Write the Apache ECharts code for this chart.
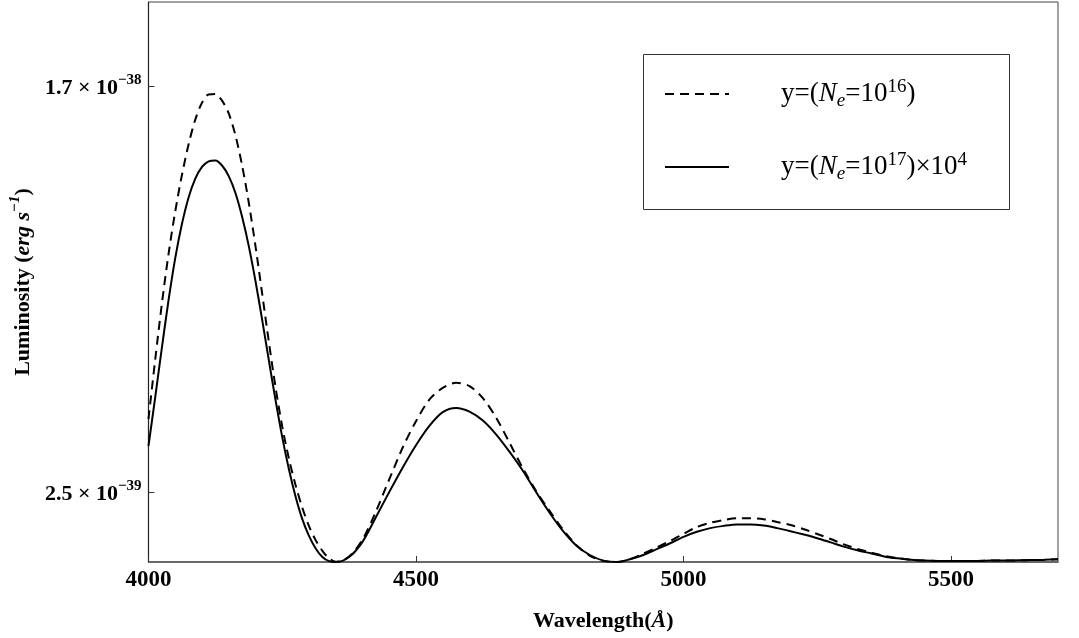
<!DOCTYPE html>
<html>
<head>
<meta charset="utf-8">
<title>Luminosity vs wavelength</title>
<script src="https://cdn.jsdelivr.net/npm/echarts@6/dist/echarts.min.js"></script>
<style>
  html, body { margin: 0; padding: 0; background: #ffffff; }
  #chart { width: 1079px; height: 638px; }
</style>
</head>
<body>
<div id="chart"></div>
<script>
// Wavelength samples (Angstrom): finer across the first, steepest lobe
const wavelengths = [
  4000, 4012.5, 4025, 4037.5, 4050, 4062.5, 4075, 4087.5, 4100, 4112.5,
  4125, 4137.5, 4150, 4162.5, 4175, 4187.5, 4200, 4212.5, 4225, 4237.5,
  4250, 4262.5, 4275, 4287.5, 4300, 4312.5, 4325, 4337.5, 4350,
  4375, 4400, 4425, 4450, 4475,
  4500, 4525, 4550, 4575, 4600, 4625, 4650, 4675, 4700, 4725,
  4750, 4775, 4800, 4825, 4850, 4875, 4900, 4925, 4950, 4975,
  5000, 5025, 5050, 5075, 5100, 5125, 5150, 5175, 5200, 5225,
  5250, 5275, 5300, 5325, 5350, 5375, 5400, 5425, 5450, 5475,
  5500, 5525, 5550, 5575, 5600, 5625, 5650, 5675, 5700
];

// Luminosity in units of 1e-39 erg s^-1, N_e = 1e16
const lumNe16 = [
  5.10, 7.22, 9.22, 11.00, 12.52, 13.82, 14.92, 15.80, 16.40, 16.70,
  16.71, 16.48, 16.02, 15.24, 14.16, 12.83, 11.28, 9.58, 7.86, 6.24,
  4.84, 3.69, 2.74, 1.94, 1.28, 0.78, 0.40, 0.13, 0.01,
  0.20, 0.80, 1.80, 2.95, 4.08,
  5.03, 5.80, 6.22, 6.40, 6.28, 5.85, 5.15, 4.25, 3.34, 2.52,
  1.82, 1.15, 0.60, 0.22, 0.04, 0.00, 0.10, 0.30, 0.52, 0.75,
  1.00, 1.25, 1.40, 1.50, 1.56, 1.56, 1.53, 1.43, 1.32, 1.17,
  1.00, 0.82, 0.63, 0.47, 0.34, 0.22, 0.14, 0.08, 0.05, 0.04,
  0.04, 0.04, 0.04, 0.05, 0.05, 0.06, 0.07, 0.08, 0.10
];

// Luminosity in units of 1e-39 erg s^-1, N_e = 1e17, scaled by 1e4
const lumNe17 = [
  4.15, 5.87, 7.65, 9.35, 10.85, 12.07, 13.02, 13.69, 14.11, 14.31,
  14.34, 14.16, 13.78, 13.18, 12.33, 11.28, 10.03, 8.65, 7.20, 5.78,
  4.46, 3.31, 2.33, 1.53, 0.93, 0.48, 0.18, 0.03, 0.00,
  0.18, 0.72, 1.60, 2.50, 3.37,
  4.17, 4.86, 5.35, 5.50, 5.37, 5.05, 4.55, 3.93, 3.25, 2.48,
  1.75, 1.10, 0.58, 0.25, 0.05, 0.00, 0.10, 0.25, 0.46, 0.67,
  0.90, 1.08, 1.21, 1.29, 1.34, 1.34, 1.30, 1.21, 1.10, 0.98,
  0.85, 0.70, 0.55, 0.42, 0.31, 0.20, 0.13, 0.08, 0.05, 0.04,
  0.04, 0.04, 0.04, 0.05, 0.05, 0.06, 0.07, 0.08, 0.10
];

// Axis ticks
const xTickValues = [4000, 4500, 5000, 5500];
const yTickValues = [2.5, 17];
const yTickMantissas = ['2.5', '1.7'];
const yTickExponents = ['\u221239', '\u221238'];

const serif = '"Liberation Serif", "DejaVu Serif", serif';

const chart = echarts.init(document.getElementById('chart'), null, { renderer: 'canvas' });

const pairs = (ys) => wavelengths.map((x, i) => [x, ys[i]]);

const option = {
  backgroundColor: '#ffffff',
  animation: false,
  grid: {
    left: 147, right: 21, top: 2, bottom: 76,
    show: true, borderColor: '#444', borderWidth: 1
  },
  xAxis: {
    type: 'value',
    min: 4000, max: 5700,
    interval: 500,
    splitLine: { show: false },
    axisLine: { lineStyle: { color: '#555', width: 1.5 } },
    axisTick: { inside: true, length: 6, customValues: xTickValues, lineStyle: { color: '#333' } },
    axisLabel: {
      customValues: xTickValues,
      formatter: function (v) { return String(v); },
      fontFamily: serif, fontWeight: 'bold', fontSize: 23, color: '#000', margin: 7
    },
    name: '{b|Wavelength(}{i|\u00c5}{b|)}',
    nameLocation: 'middle',
    nameGap: 48,
    nameTextStyle: {
      rich: {
        b: { fontFamily: serif, fontWeight: 'bold', fontSize: 22, color: '#000' },
        i: { fontFamily: serif, fontWeight: 'bold', fontStyle: 'italic', fontSize: 22, color: '#000' }
      }
    }
  },
  yAxis: {
    type: 'value',
    min: 0, max: 20,
    splitLine: { show: false },
    axisLine: { lineStyle: { color: '#222', width: 1.2 } },
    axisTick: { inside: true, length: 6, customValues: yTickValues, lineStyle: { color: '#333' } },
    axisLabel: {
      customValues: yTickValues,
      margin: 7,
      formatter: function (v) {
        const k = yTickValues.indexOf(v);
        if (k < 0) return '';
        return '{m|' + yTickMantissas[k] + ' \u00d7 10}{e|' + yTickExponents[k] + '}';
      },
      rich: {
        m: { fontFamily: serif, fontWeight: 'bold', fontSize: 22, color: '#000', lineHeight: 26, verticalAlign: 'bottom' },
        e: { fontFamily: serif, fontWeight: 'bold', fontSize: 15, color: '#000', lineHeight: 26, verticalAlign: 'top' }
      }
    },
    name: '{b|Luminosity (}{i|erg s}{e|\u22121}{b|)}',
    nameLocation: 'middle',
    nameGap: 109,
    nameTextStyle: {
      rich: {
        b: { fontFamily: serif, fontWeight: 'bold', fontSize: 22, color: '#000', lineHeight: 26, verticalAlign: 'bottom' },
        i: { fontFamily: serif, fontWeight: 'bold', fontStyle: 'italic', fontSize: 22, color: '#000', lineHeight: 26, verticalAlign: 'bottom' },
        e: { fontFamily: serif, fontWeight: 'bold', fontStyle: 'italic', fontSize: 15, color: '#000', lineHeight: 26, verticalAlign: 'top' }
      }
    }
  },
  legend: {
    orient: 'vertical',
    left: 659,
    top: 73,
    itemWidth: 64,
    itemHeight: 14,
    itemGap: 41,
    selectedMode: false,
    itemStyle: { opacity: 0 },
    formatter: function (name) {
      return name === 'ne16'
        ? '{t|y=(}{it|N}{sub|e}{t|=10}{sup|16}{t|)}'
        : '{t|y=(}{it|N}{sub|e}{t|=10}{sup|17}{t|)\u00d710}{sup|4}';
    },
    textStyle: {
      padding: [0, 0, 0, 47],
      rich: {
        t: { fontFamily: serif, fontSize: 27, color: '#000', lineHeight: 32, verticalAlign: 'middle' },
        it: { fontFamily: serif, fontStyle: 'italic', fontSize: 27, color: '#000', lineHeight: 32, verticalAlign: 'middle' },
        sub: { fontFamily: serif, fontStyle: 'italic', fontSize: 19, color: '#000', lineHeight: 32, verticalAlign: 'bottom' },
        sup: { fontFamily: serif, fontSize: 19, color: '#000', lineHeight: 32, verticalAlign: 'top' }
      }
    }
  },
  graphic: [
    {
      type: 'rect',
      left: 641, top: 52,
      shape: { width: 366, height: 155 },
      style: { fill: 'none', stroke: '#333', lineWidth: 1 },
      silent: true
    }
  ],
  series: [
    {
      name: 'ne16',
      type: 'line',
      data: pairs(lumNe16),
      smooth: 0.3,
      showSymbol: false,
      symbol: 'none',
      lineStyle: { color: '#000', width: 2, type: [9, 6] },
      itemStyle: { color: '#000' }
    },
    {
      name: 'ne17',
      type: 'line',
      data: pairs(lumNe17),
      smooth: 0.3,
      showSymbol: false,
      symbol: 'none',
      lineStyle: { color: '#000', width: 2, type: 'solid' },
      itemStyle: { color: '#000' }
    }
  ]
};

chart.setOption(option);
</script>
</body>
</html>
